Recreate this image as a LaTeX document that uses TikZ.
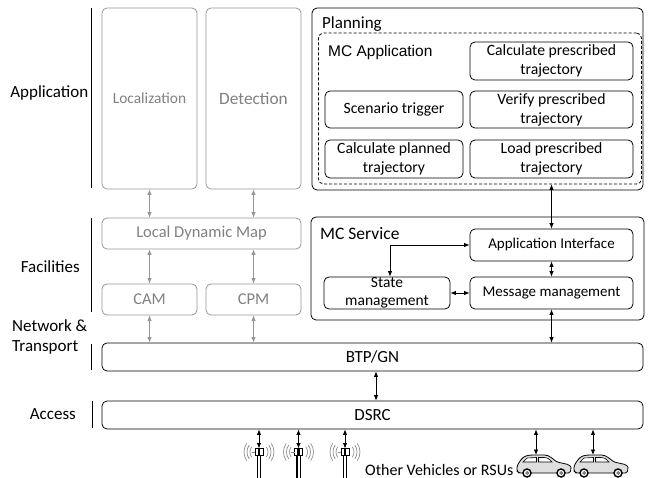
\documentclass[tikz,border=0pt]{standalone}
\usepackage{fontspec}
\setmainfont{Carlito}
\newfontfamily\arialf{Liberation Sans}
\usetikzlibrary{arrows.meta,calc}
\definecolor{gline}{RGB}{150,150,150}
\definecolor{gtext}{RGB}{128,128,128}
\definecolor{carfill}{RGB}{222,222,222}
\definecolor{wave}{RGB}{140,140,140}
\tikzset{
  antenna/.pic={
    \draw[line width=0.6pt, fill=white] (-1.6,3) rectangle (1.6,26);
    \draw[line width=1pt] (-1.6,3) -- (-1.6,26);
    \draw[fill=white, line width=0.7pt] (-4,-3.5) rectangle (4,3.5);
    \fill (-1.3,-3.5) rectangle (1.3,3.5);
    \draw[wave, line width=0.6pt] (-7.5,0) -- (-4,0);
    \foreach \r in {9,12,15}{
      \draw[wave, line width=0.7pt] (0,0) ++(-35:\r) arc[start angle=-35,end angle=35,radius=\r];
      \draw[wave, line width=0.7pt] (0,0) ++(145:\r) arc[start angle=145,end angle=215,radius=\r];
    }
  },
  carpic/.pic={
    \draw[fill=carfill, line width=0.8pt, rounded corners=1.5pt]
      (3,18) -- (1,16) -- (1,11) -- (4,6) .. controls (8,1) and (11,0) .. (19,0) -- (27,0)
      .. controls (33,0) and (37,4) .. (41,7) -- (50,9) .. controls (54,10) and (55,12) .. (55,14)
      -- (54,18) -- cycle;
    \draw[fill=white, line width=0.6pt] (7,7) -- (11,3) -- (20.5,2.5) -- (20.5,7) -- cycle;
    \draw[fill=white, line width=0.6pt] (22.5,2.5) -- (28,2.5) .. controls (32,3) .. (36,7) -- (22.5,7) -- cycle;
    \draw[fill=white, line width=1.4pt] (11,18) circle (4);
    \draw[fill=white, line width=1.4pt] (45,18) circle (4);
    \draw[line width=0.5pt] (11,18) circle (1.4);
    \draw[line width=0.5pt] (45,18) circle (1.4);
  }
}
\begin{document}
\begin{tikzpicture}[x=1pt,y=-1pt,
  bx/.style={draw,rounded corners=5pt,line width=0.8pt,inner sep=0pt,align=center,font=\fontsize{15.7}{19}\selectfont},
  gbx/.style={draw=gline,rounded corners=5pt,line width=0.8pt,inner sep=0pt,align=center,text=gtext,font=\fontsize{16.5}{19}\selectfont},
  lab/.style={inner sep=0pt,font=\fontsize{17}{20.5}\selectfont},
  dar/.style={line width=0.8pt,{Latex[length=5.5pt,width=4.5pt]}-{Latex[length=5.5pt,width=4.5pt]}},
  gar/.style={draw=gline,line width=0.8pt,{Latex[length=5.5pt,width=4.5pt]}-{Latex[length=5.5pt,width=4.5pt]}},
  bar/.style={line width=0.8pt}
]
\useasboundingbox (0,0) rectangle (648,478);

% left labels and bars
\node[lab,anchor=base east] (lapp) at (88.5,98) {Application};
\node[lab,anchor=base east] (lfac) at (80,273) {Facilities};
\node[lab,anchor=base west,align=left] (lnet) at (12,352) {Network \&\\Transport};
\node[lab,anchor=base east] (lacc) at (76,419) {Access};
\draw[bar] (91,8) -- (91,188);
\draw[bar] (91,218) -- (91,312);
\draw[bar] (91,344) -- (91,370);
\draw[bar] (92,401) -- (92,428);

% application layer
\node[gbx,minimum width=95pt,minimum height=181pt,font=\fontsize{15.4}{19}\selectfont] (loc) at (149.5,98.5) {Localization};
\node[gbx,minimum width=95pt,minimum height=181pt,font=\fontsize{17.3}{19}\selectfont] (det) at (253.5,98.5) {Detection};
\node[bx,minimum width=331pt,minimum height=182pt] (plan) at (477.5,99) {};
\node[lab,anchor=base west] (plant) at (322,29) {Planning};
\node[draw,dash pattern=on 3pt off 2pt,rounded corners=5pt,line width=0.8pt,minimum width=323pt,minimum height=151pt,inner sep=0pt] (mcapp) at (480,108.5) {};
\node[inner sep=0pt,anchor=base west,font=\arialf\fontsize{15.5}{18}\selectfont] (mcappt) at (328,57) {MC Application};
\node[bx,minimum width=163pt,minimum height=38pt] (calcp) at (551.5,61) {Calculate prescribed\\trajectory};
\node[bx,minimum width=138pt,minimum height=37pt] (scen) at (394,109.5) {Scenario trigger};
\node[bx,minimum width=163pt,minimum height=37pt] (ver) at (551.5,109.5) {Verify prescribed\\trajectory};
\node[bx,minimum width=138pt,minimum height=38pt] (calcpl) at (394,159) {Calculate planned\\trajectory};
\node[bx,minimum width=163pt,minimum height=38pt] (load) at (551.5,159) {Load prescribed\\trajectory};

% facilities layer
\node[gbx,minimum width=199pt,minimum height=31pt] (ldm) at (201.5,233.5) {Local Dynamic Map};
\node[gbx,minimum width=95pt,minimum height=31pt] (cam) at (149.5,299.5) {CAM};
\node[gbx,minimum width=95pt,minimum height=31pt] (cpm) at (253.5,299.5) {CPM};
\node[bx,minimum width=333pt,minimum height=103pt] (mcs) at (477.5,268.5) {};
\node[lab,anchor=base west,font=\fontsize{17.5}{20}\selectfont] (mcst) at (320,240) {MC Service};
\node[bx,minimum width=163pt,minimum height=32pt,font=\fontsize{15}{18}\selectfont] (appif) at (551.5,245) {Application Interface};
\node[bx,minimum width=126pt,minimum height=32pt,font=\fontsize{15.5}{18}\selectfont] (state) at (387,293) {State\\management};
\node[bx,minimum width=163pt,minimum height=32pt,font=\fontsize{15}{18}\selectfont] (msg) at (551.5,293) {Message management};

% network and access
\node[bx,minimum width=541pt,minimum height=28pt,font=\fontsize{17}{20}\selectfont] (btp) at (372.5,357) {BTP/GN};
\node[bx,minimum width=541pt,minimum height=28pt,font=\fontsize{17}{20}\selectfont] (dsrc) at (372.5,415) {DSRC};

% bottom devices
\pic at (259,452) {antenna};
\pic at (298.5,452) {antenna};
\pic at (345,452) {antenna};
\coordinate (a1) at (259,448.5);
\coordinate (a2) at (298.5,448.5);
\coordinate (a3) at (345,448.5);
\node[inner sep=0pt,anchor=base west,font=\fontsize{16}{19}\selectfont] (other) at (365,475.5) {Other Vehicles or RSUs};
\pic at (516,455) {carpic};
\pic at (573,455) {carpic};
\coordinate (c1) at (536,455);
\coordinate (c2) at (593,455);

% connectors
\draw[gar] (loc.south) -- (loc.south |- ldm.north);
\draw[gar] (det.south) -- (det.south |- ldm.north);
\draw[gar] (cam.north |- ldm.south) -- (cam.north);
\draw[gar] (cpm.north |- ldm.south) -- (cpm.north);
\draw[gar] (cam.south) -- (cam.south |- btp.north);
\draw[gar] (cpm.south) -- (cpm.south |- btp.north);
\draw[dar] (appif.north |- mcapp.south) -- (appif.north);
\draw[dar] ([xshift=3pt]state.north) |- (appif.west);
\draw[dar] (state.east) -- (msg.west);
\draw[dar] (appif.south) -- (msg.north);
\draw[dar] (msg.south) -- (msg.south |- btp.north);
\draw[dar] ([xshift=3.5pt]btp.south) -- ([xshift=3.5pt]dsrc.north);
\draw[dar] (a1 |- dsrc.south) -- (a1);
\draw[dar] (a2 |- dsrc.south) -- (a2);
\draw[dar] (a3 |- dsrc.south) -- (a3);
\draw[dar] (c1 |- dsrc.south) -- (c1);
\draw[dar] (c2 |- dsrc.south) -- (c2);
\end{tikzpicture}
\end{document}
